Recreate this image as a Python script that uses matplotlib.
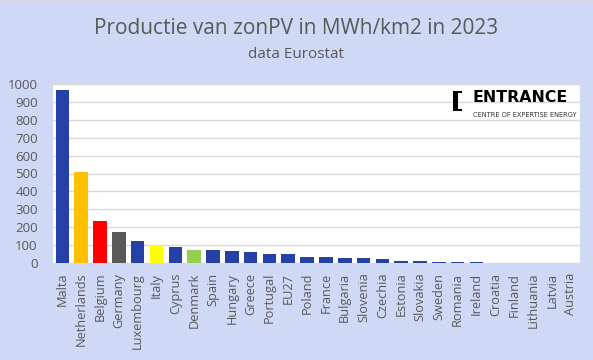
import matplotlib
matplotlib.use("Agg")
import matplotlib.pyplot as plt
from matplotlib.patches import Polygon
from matplotlib.lines import Line2D

countries = ["Malta", "Netherlands", "Belgium", "Germany", "Luxembourg", "Italy", "Cyprus",
             "Denmark", "Spain", "Hungary", "Greece", "Portugal", "EU27", "Poland", "France",
             "Bulgaria", "Slovenia", "Czechia", "Estonia", "Slovakia", "Sweden", "Romania",
             "Ireland", "Croatia", "Finland", "Lithuania", "Latvia", "Austria"]
values = [969, 509, 235, 173, 123, 100, 89, 72, 72, 67, 61, 52, 52, 33, 33,
          27, 27, 22, 10, 10, 5, 5, 5, 1, 1, 1, 1, 1]
highlight = {"Netherlands": "#FFC000", "Belgium": "#FF0000", "Germany": "#595959",
             "Italy": "#FFFF00", "Denmark": "#92D050"}
yticks = [0, 100, 200, 300, 400, 500, 600, 700, 800, 900, 1000]

BG = "#CFD8F4"
BLUE = "#2541A8"
TXT = "#595959"

fig = plt.figure(figsize=(5.93, 3.6), dpi=100, facecolor=BG)
ax = fig.add_axes([53/593, 97/360, 527/593, 179/360])
ax.set_facecolor("white")
colors = [highlight.get(c, BLUE) for c in countries]
x = range(len(countries))
ax.bar(x, values, width=0.72, color=colors, zorder=3)
ax.set_xlim(-0.5, len(countries) - 0.5)
ax.set_ylim(0, 1000)
ax.set_yticks(yticks)
ax.set_yticklabels([str(v) for v in yticks], fontsize=9.5, color=TXT, family="Open Sans")
ax.set_xticks(list(x))
ax.set_xticklabels(countries, rotation=90, fontsize=9.2, color=TXT, family="Open Sans")
ax.tick_params(axis="both", length=0)
ax.tick_params(axis="y", pad=11)
ax.tick_params(axis="x", pad=7)
ax.grid(axis="y", color="#D9D9D9", linewidth=1, zorder=0)
for s in ax.spines.values():
    s.set_visible(False)

fig.text(0.5, 1 - 28/360, "Productie van zonPV in MWh/km2 in 2023", ha="center", va="center",
         fontsize=15, color=TXT, family="Open Sans")
fig.text(0.5, 1 - 55/360, "data Eurostat", ha="center", va="center",
         fontsize=11, color=TXT, family="Open Sans")

fig.add_artist(Line2D([0, 1], [1 - 0.5/360, 1 - 0.5/360], transform=fig.transFigure,
                      color="#D9D9D9", linewidth=1.2))

# logo
W, H = 593, 360
def fp(px, py):
    return (px / W, 1 - py / H)
bracket = [(453, 91), (462, 91), (462, 93), (458, 93), (458, 109), (462, 109),
           (462, 111), (453, 111)]
fig.patches.append(Polygon([fp(*p) for p in bracket], closed=True, transform=fig.transFigure,
                           facecolor="black", edgecolor="none", zorder=5))
fig.text(472/W, 1 - 98/H, "ENTRANCE", ha="left", va="center", fontsize=11.3,
         fontweight="heavy", color="black", family="DejaVu Sans")
fig.text(473/W, 1 - 115/H, "CENTRE OF EXPERTISE ENERGY", ha="left", va="center", fontsize=4.8,
         color="#333333", family="DejaVu Sans")

fig.savefig("out.png", dpi=100, facecolor=BG)
